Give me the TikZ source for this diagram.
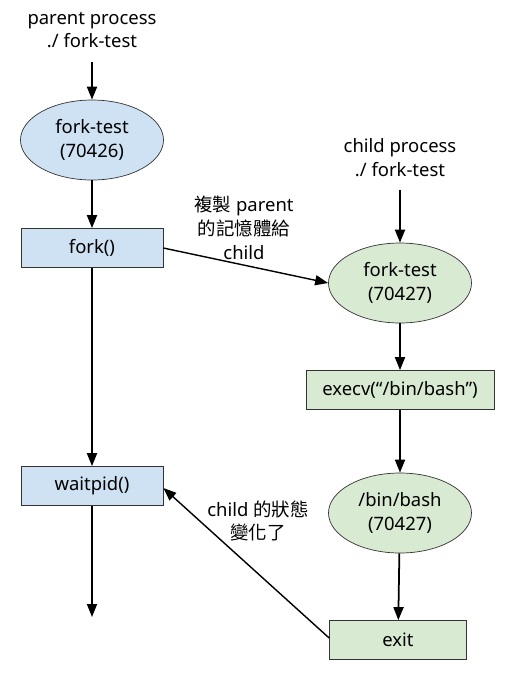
\documentclass[tikz,border=0pt]{standalone}
\usepackage{fontspec}
\setmainfont{Noto Sans}
\newfontfamily\cjk{Noto Sans CJK TC}
\usetikzlibrary{arrows.meta, shapes.geometric}

\definecolor{parentfill}{HTML}{CFE2F3}
\definecolor{childfill}{HTML}{D9EAD3}

\begin{document}
\begin{tikzpicture}[
  x=0.2mm, y=-0.2mm,
  font=\fontsize{10.5pt}{13.6pt}\selectfont,
  proc/.style={draw=black!80, ellipse, minimum width=28.6mm, minimum height=16mm,
               inner sep=0pt, align=center},
  call/.style={draw=black!80, rectangle, minimum width=28.4mm, minimum height=7.8mm,
               inner sep=0pt, align=center},
  par/.style={fill=parentfill},                  % parent side
  chd/.style={fill=childfill},                   % child side
  flow/.style={-{Triangle[length=2.6mm, width=2mm]}, line width=1pt},
  cross/.style={-{Triangle[length=2.6mm, width=2mm]}, line width=0.8pt},
  note/.style={align=center},
]
  \useasboundingbox[fill=white] (0,0) rectangle (512,683);

  % ---- Parent column ----
  \node[note] (ptitle) at (92,30) {parent process\\./ fork-test};
  \coordinate (pstart) at (92,62);
  \node[proc, par] (ptest) at (92,140) {fork-test\\(70426)};
  \node[call, par] (fork)  at (92,248) {fork()};
  \node[call, par] (wait)  at (92,486) {waitpid()};
  \coordinate (pend) at (92,617);

  % ---- Child column ----
  \node[note] (ctitle) at (400,158) {child process\\./ fork-test};
  \coordinate (cstart) at (400,190);
  \node[proc, chd] (ctest) at (400,283) {fork-test\\(70427)};
  \node[call, chd, minimum width=37.6mm] (execv) at (400,390) {execv(“/bin/bash”)};
  \node[proc, chd] (bash)  at (400,513) {/bin/bash\\(70427)};
  \node[call, chd, minimum width=27.4mm] (exit) at (398,640) {exit};

  % ==== Parent flow ====
  \draw[flow] (pstart) -- (ptest.north);
  \draw[flow] (ptest) -- (fork);
  \draw[flow] (fork) -- (wait);
  \draw[flow] (wait) -- (pend);

  % ==== Child flow ====
  \draw[flow] (cstart) -- (ctest.north);
  \draw[flow] (ctest) -- (execv);
  \draw[flow] (execv) -- (bash);
  \draw[flow] (bash) -- (exit);

  % ==== Between the two ====
  \draw[cross] (fork.east) -- (ctest.west);                             % fork -> child
  \node[note] (copy) at (244,228) {{\cjk 複製} parent\\{\cjk 的記憶體給}\\child};
  \draw[cross] ([yshift=0.4mm]exit.west) -- ([yshift=-0.4mm]wait.east); % exit -> waitpid
  \node[note] (state) at (258,521) {child {\cjk 的狀態}\\{\cjk 變化了}};
\end{tikzpicture}
\end{document}
